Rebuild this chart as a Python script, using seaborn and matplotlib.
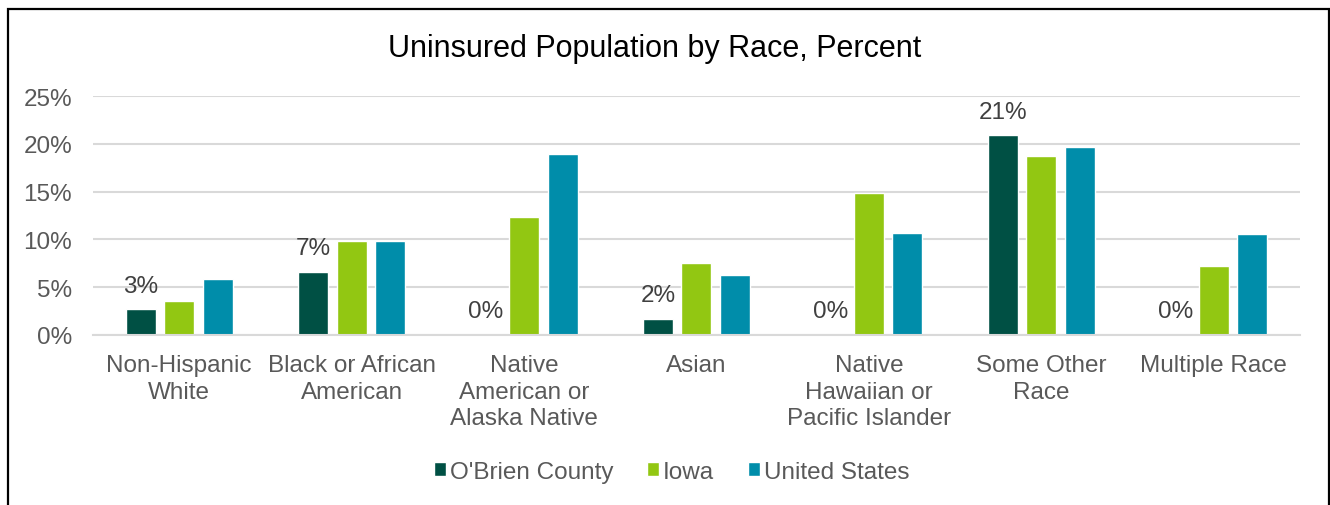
import matplotlib
matplotlib.use("Agg")
import matplotlib.pyplot as plt
import matplotlib.patches as mpatches
import seaborn as sns
import pandas as pd

categories = ["Non-Hispanic\nWhite", "Black or African\nAmerican", "Native\nAmerican or\nAlaska Native",
              "Asian", "Native\nHawaiian or\nPacific Islander", "Some Other\nRace", "Multiple Race"]
series = ["O'Brien County", "Iowa", "United States"]
obrien = [2.7, 6.6, 0.0, 1.7, 0.0, 20.9, 0.0]
iowa = [3.6, 9.8, 12.3, 7.5, 14.9, 18.7, 7.2]
us = [5.85, 9.85, 18.9, 6.3, 10.7, 19.7, 10.6]
colors = ["#005044", "#92C712", "#008DAA"]

rows = []
for s, vals in zip(series, [obrien, iowa, us]):
    for c, v in zip(categories, vals):
        rows.append({"cat": c, "series": s, "val": v})
df = pd.DataFrame(rows)

sns.set_theme(style="white")
plt.rcParams['font.family'] = ['Liberation Sans', 'DejaVu Sans']

fig = plt.figure(figsize=(13.3, 5.06), dpi=100)
ax = fig.add_axes([0.0699, 0.336, 0.9075, 0.4723])

sns.barplot(data=df, x="cat", y="val", hue="series", palette=colors, ax=ax,
            width=0.67, gap=0.22, saturation=1, legend=True, errorbar=None)

ax.set_ylim(0, 25)
ax.set_xlim(-0.5, len(categories) - 0.5)
ax.set_yticks([0, 5, 10, 15, 20, 25])
ax.set_yticklabels([f"{t}%" for t in [0, 5, 10, 15, 20, 25]])
ax.yaxis.grid(True, color="#D9D9D9", linewidth=1.5)
ax.set_axisbelow(True)
for sp in ["top", "right", "left"]:
    ax.spines[sp].set_visible(False)
ax.spines["bottom"].set_color("#D9D9D9")
ax.spines["bottom"].set_linewidth(1.5)
ax.tick_params(axis="y", length=0, pad=15, labelsize=17.5, labelcolor="#595959")
ax.tick_params(axis="x", length=0, pad=14, labelsize=17.5, labelcolor="#595959")
for lab in ax.get_xticklabels():
    lab.set_linespacing(1.26)
ax.set_xlabel("")
ax.set_ylabel("")

# data labels for O'Brien County
cont = ax.containers[0]
ax.bar_label(cont, labels=[f"{v:.0f}%" for v in obrien], padding=9,
             fontsize=17.5, color="#404040")

fig.text(0.4925, 0.903, "Uninsured Population by Race, Percent", ha="center", va="center",
         fontsize=22, color="black")

handles, labels = ax.get_legend_handles_labels()
ax.legend_.remove()
fig.legend(handles, labels, loc="center", bbox_to_anchor=(0.505, 0.066), ncol=3,
           frameon=False, fontsize=17.5, handlelength=0.5, handleheight=0.5,
           handletextpad=0.15, columnspacing=1.4, labelcolor="#595959")

border = mpatches.Rectangle((8 / 1330, -0.1), (1329 - 8) / 1330, 1 - 10 / 506 + 0.1,
                            transform=fig.transFigure, fill=False, edgecolor="black",
                            linewidth=1.6, clip_on=False)
fig.patches.append(border)

fig.savefig("out.png", dpi=100)
